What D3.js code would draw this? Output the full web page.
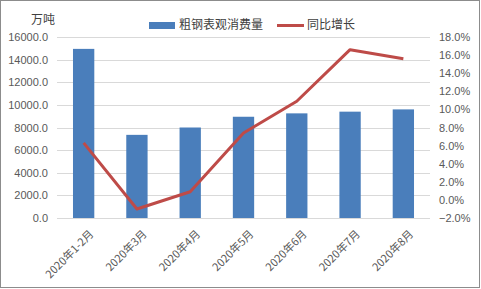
<!DOCTYPE html>
<html>
<head>
<meta charset="utf-8">
<script src="https://cdn.jsdelivr.net/npm/d3@7"></script>
<style>
  body { margin: 0; background: #fff; }
  svg { display: block; font-family: "Noto Sans CJK SC", "Noto Sans", sans-serif; }
</style>
</head>
<body>
<svg id="chart"></svg>
<script>
const categories = ["2020年1-2月", "2020年3月", "2020年4月", "2020年5月", "2020年6月", "2020年7月", "2020年8月"];
const consumption = [14950, 7350, 8000, 8950, 9250, 9400, 9600];
const growth = [6.3, -1.0, 0.9, 7.4, 10.9, 16.6, 15.6];
const leftTicks = [0, 2000, 4000, 6000, 8000, 10000, 12000, 14000, 16000];
const rightTicks = [-2, 0, 2, 4, 6, 8, 10, 12, 14, 16, 18];

const width = 481;
const height = 289;
const marginTop = 37;
const marginRight = 51;
const marginBottom = 71;
const marginLeft = 57;

const svg = d3.select("#chart").attr("width", width).attr("height", height);

// outer border
svg.append("rect")
    .attr("x", 0.5).attr("y", 0.5)
    .attr("width", width - 2).attr("height", height - 2)
    .attr("fill", "#fff").attr("stroke", "#8c8c8c");

const x = d3.scaleBand()
    .domain(categories)
    .range([marginLeft, width - marginRight])
    .paddingInner(0.6)
    .paddingOuter(0.3);

const y = d3.scaleLinear()
    .domain([0, 16000])
    .range([height - marginBottom, marginTop]);

const y2 = d3.scaleLinear()
    .domain([-2, 18])
    .range([height - marginBottom, marginTop]);

// gridlines
svg.append("g")
    .selectAll("line")
    .data(leftTicks)
    .join("line")
    .attr("x1", marginLeft).attr("x2", width - marginRight)
    .attr("y1", d => Math.round(y(d)) + 0.5).attr("y2", d => Math.round(y(d)) + 0.5)
    .attr("stroke", "#d9d9d9");

// left axis
const yAxis = svg.append("g")
    .attr("transform", `translate(${marginLeft - 9},0)`)
    .call(d3.axisLeft(y).tickValues(leftTicks).tickFormat(d3.format(".1f")).tickSize(0).tickPadding(0));
yAxis.select(".domain").remove();
yAxis.selectAll("text").attr("fill", "#595959").attr("font-size", 11);

// right axis
const yAxis2 = svg.append("g")
    .attr("transform", `translate(${width - marginRight + 9},0)`)
    .call(d3.axisRight(y2).tickValues(rightTicks).tickFormat(d => d3.format(".1f")(d) + "%").tickSize(0).tickPadding(0));
yAxis2.select(".domain").remove();
yAxis2.selectAll("text").attr("fill", "#595959").attr("font-size", 11);

// bars
svg.append("g")
    .selectAll("rect")
    .data(consumption)
    .join("rect")
    .attr("x", (d, i) => x(categories[i]))
    .attr("y", d => y(d))
    .attr("width", x.bandwidth())
    .attr("height", d => y(0) - y(d))
    .attr("fill", "#4a7ebb");

// growth line
const line = d3.line()
    .x((d, i) => x(categories[i]) + x.bandwidth() / 2)
    .y(d => y2(d));

svg.append("path")
    .datum(growth)
    .attr("d", line)
    .attr("fill", "none")
    .attr("stroke", "#be4b48")
    .attr("stroke-width", 3)
    .attr("stroke-linejoin", "round");

// x labels, rotated
svg.append("g")
    .selectAll("text")
    .data(categories)
    .join("text")
    .attr("transform", d => `translate(${x(d) + x.bandwidth() / 2 + 8},${height - marginBottom + 14}) rotate(-45)`)
    .attr("text-anchor", "end")
    .attr("dy", "0.35em")
    .attr("fill", "#595959")
    .attr("font-size", 11)
    .text(d => d);

// unit label
svg.append("text")
    .attr("x", 31).attr("y", 24)
    .attr("fill", "#404040")
    .attr("font-size", 12)
    .text("万吨");

// legend
const legend = svg.append("g").attr("font-size", 12).attr("fill", "#404040");
legend.append("rect")
    .attr("x", 149).attr("y", 22).attr("width", 26).attr("height", 7)
    .attr("fill", "#4a7ebb");
legend.append("text")
    .attr("x", 179).attr("y", 25).attr("dy", "0.35em")
    .attr("fill", "#404040")
    .text("粗钢表观消费量");
legend.append("line")
    .attr("x1", 277).attr("x2", 304).attr("y1", 25.5).attr("y2", 25.5)
    .attr("stroke", "#be4b48").attr("stroke-width", 3);
legend.append("text")
    .attr("x", 307).attr("y", 25).attr("dy", "0.35em")
    .attr("fill", "#404040")
    .text("同比增长");
</script>
</body>
</html>
